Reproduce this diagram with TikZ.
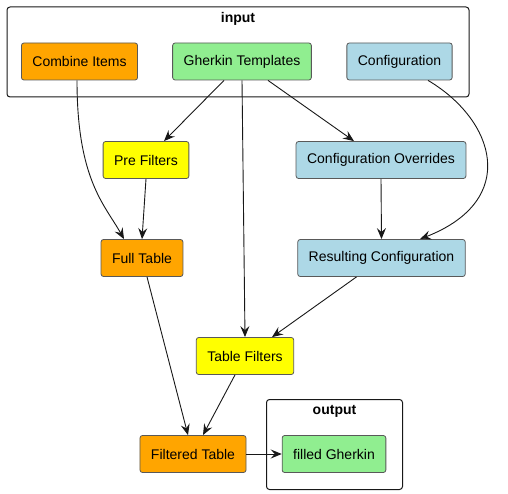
\documentclass[tikz,border=0pt]{standalone}
\usepackage{fontspec}
\setmainfont{Liberation Sans}
\usetikzlibrary{arrows.meta, positioning}
\usepackage{xcolor}

\definecolor{boxorange}{HTML}{FFA500}
\definecolor{boxgreen}{HTML}{90EE90}
\definecolor{boxblue}{HTML}{ADD8E6}
\definecolor{boxyellow}{HTML}{FFFF00}
\definecolor{edgecol}{HTML}{181818}

\tikzset{
  item/.style={draw=black!65, line width=0.8pt, rounded corners=2.5pt,
               minimum height=37pt, inner xsep=11pt,
               font=\fontsize{14}{16}\selectfont},
  frame/.style={draw=edgecol, line width=1pt, rounded corners=3pt},
  frametitle/.style={font=\fontsize{14}{16}\selectfont\bfseries},
  flow/.style={draw=edgecol, line width=0.9pt,
               -{Stealth[length=11pt, width=9pt, inset=4pt]}}
}

\begin{document}
\begin{tikzpicture}[x=1pt, y=-1pt]
  \useasboundingbox (0,0) rectangle (508,494);

  % groups
  \node [frame, minimum width=462pt, minimum height=90pt] (input) at (238,52) {};
  \node [frametitle] (inputtitle) at (238,19) {input};
  \node [frame, minimum width=136pt, minimum height=90pt] (output) at (334.5,444.5) {};
  \node [frametitle] (outputtitle) at (334.5,411) {output};

  % inputs
  \node [item, fill=boxorange] (combine) at (79.5,61.5) {Combine Items};
  \node [item, fill=boxgreen] (gherkin) at (242,61.5) {Gherkin Templates};
  \node [item, fill=boxblue] (config) at (399.5,61.5) {Configuration};

  % steps
  \node [item, fill=boxyellow] (prefilters) at (146,160) {Pre Filters};
  \node [item, fill=boxblue] (overrides) at (381,160) {Configuration Overrides};
  \node [item, fill=boxorange] (fulltable) at (142,258) {Full Table};
  \node [item, fill=boxblue] (resulting) at (381.5,258) {Resulting Configuration};
  \node [item, fill=boxyellow] (tablefilters) at (245,356) {Table Filters};
  \node [item, fill=boxorange] (filtered) at (193,454) {Filtered Table};

  % result
  \node [item, fill=boxgreen] (filled) at (334,454) {filled Gherkin};

  % connections
  \draw [flow] ([xshift=-2.5pt]combine.south) .. controls (77,180) and (105,205) .. ([xshift=-18pt]fulltable.north);
  \draw [flow] ([xshift=-18pt]gherkin.south) -- ([xshift=18pt]prefilters.north);
  \draw [flow] (gherkin.south) -- (tablefilters.north);
  \draw [flow] ([xshift=26pt]gherkin.south) -- ([xshift=-27pt]overrides.north);
  \draw [flow] ([xshift=28.5pt]config.south) .. controls (495,120) and (520,200) .. ([xshift=38.5pt]resulting.north);
  \draw [flow] (prefilters.south) -- (fulltable.north);
  \draw [flow] (overrides.south) -- (resulting.north);
  \draw [flow] ([xshift=5pt]fulltable.south) -- ([xshift=-5pt]filtered.north);
  \draw [flow] ([xshift=-25pt]resulting.south) -- ([xshift=27pt]tablefilters.north);
  \draw [flow] ([xshift=-10pt]tablefilters.south) -- ([xshift=10pt]filtered.north);
  \draw [flow] (filtered.east) -- (filled.west);
\end{tikzpicture}
\end{document}
